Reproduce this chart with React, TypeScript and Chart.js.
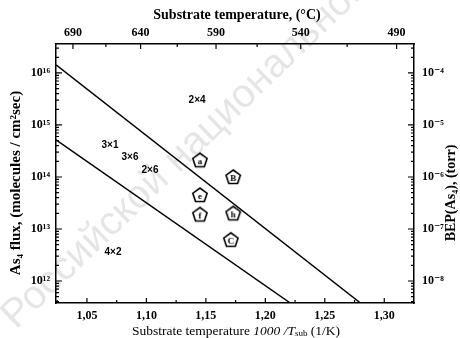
import React, { useEffect, useRef } from "react";
import { Chart, registerables } from "chart.js";

Chart.register(...registerables);

// Axis ticks
const xTicks = [1.05, 1.1, 1.15, 1.2, 1.25, 1.3];
const xMinorTicks = [1.025, 1.075, 1.125, 1.175, 1.225, 1.275, 1.325];
const tempTicksC = [690, 640, 590, 540, 490];
const tempMinorC = [665, 615, 565, 515];
const fluxTicks = [1e12, 1e13, 1e14, 1e15, 1e16];
const bepTicks = [1e-8, 1e-7, 1e-6, 1e-5, 1e-4];

// Phase boundaries (1000/T, As4 flux)
const upperBoundaryX = [1.024, 1.28];
const upperBoundaryFlux = [1.43e16, 3.78e11];
const lowerBoundaryX = [1.024, 1.221];
const lowerBoundaryFlux = [5.15e14, 3.78e11];

// Growth samples
const sampleX = [1.145, 1.173, 1.145, 1.145, 1.173, 1.171];
const sampleFlux = [2.1e14, 1.0e14, 4.5e13, 1.9e13, 2.0e13, 6.2e12];
const sampleIds = ["a", "B", "e", "f", "h", "C"];

// Surface reconstruction regions
const phaseLabels = ["2×4", "3×1", "3×6", "2×6", "4×2"];
const phaseX = [1.1426, 1.0694, 1.0862, 1.103, 1.0719];
const phaseFlux = [3.0e15, 4.1e14, 2.4e14, 1.36e14, 3.6e12];

const X_MIN = 1.024;
const X_MAX = 1.325;
const FLUX_MIN = 3.78e11;
const FLUX_MAX = 3.6e16;
const BEP_PER_FLUX = 1e-20;

const SERIF = "'Liberation Serif', 'DejaVu Serif', serif";
const SANS = "'Liberation Sans', Arial, sans-serif";

const SUP: Record<string, string> = {
  "0": "⁰", "1": "¹", "2": "²", "3": "³", "4": "⁴",
  "5": "⁵", "6": "⁶", "7": "⁷", "8": "⁸", "9": "⁹", "-": "⁻",
};
const powLabel = (v: number) => {
  const e = Math.round(Math.log10(v));
  return "10" + String(e).split("").map((c) => SUP[c] || c).join("");
};
const invT = (c: number) => 1000 / (c + 273.15);

function makePentagon(letter: string): HTMLCanvasElement {
  const size = 20;
  const c = document.createElement("canvas");
  c.width = size;
  c.height = size;
  const ctx = c.getContext("2d")!;
  const cx = size / 2;
  const cy = size / 2 + 0.5;
  const r = 7.5;
  ctx.beginPath();
  for (let i = 0; i < 5; i++) {
    const a = -Math.PI / 2 + (i * 2 * Math.PI) / 5;
    const px = cx + r * Math.cos(a);
    const py = cy + r * Math.sin(a);
    if (i === 0) ctx.moveTo(px, py);
    else ctx.lineTo(px, py);
  }
  ctx.closePath();
  ctx.fillStyle = "#fff";
  ctx.fill();
  ctx.lineWidth = 1.6;
  ctx.strokeStyle = "#000";
  ctx.stroke();
  ctx.fillStyle = "#000";
  ctx.font = `bold 9px ${SERIF}`;
  ctx.textAlign = "center";
  ctx.textBaseline = "middle";
  ctx.fillText(letter, cx, cy + 1);
  return c;
}

const decorations = {
  id: "decorations",
  beforeDatasetsDraw(chart: any) {
    const { ctx } = chart;
    // faint library stamp across the figure
    ctx.save();
    ctx.translate(16, 330);
    ctx.rotate(-Math.PI / 4.1);
    ctx.font = `40px ${SANS}`;
    ctx.fillStyle = "rgba(0,0,0,0.10)";
    ctx.textBaseline = "alphabetic";
    ctx.fillText("Российской национальной", 0, 0);
    ctx.restore();
  },
  afterDraw(chart: any) {
    const { ctx, chartArea: a, scales } = chart;
    const x = scales.x;
    const y = scales.y;
    ctx.save();
    ctx.strokeStyle = "#000";
    ctx.lineWidth = 1.2;
    ctx.beginPath();
    // bottom ticks (inward)
    xTicks.forEach((v) => {
      const px = x.getPixelForValue(v);
      ctx.moveTo(px, a.bottom);
      ctx.lineTo(px, a.bottom - 5);
    });
    xMinorTicks.forEach((v) => {
      const px = x.getPixelForValue(v);
      if (px > a.left && px < a.right) {
        ctx.moveTo(px, a.bottom);
        ctx.lineTo(px, a.bottom - 3);
      }
    });
    // top ticks (inward)
    tempTicksC.forEach((c) => {
      const px = x.getPixelForValue(invT(c));
      ctx.moveTo(px, a.top);
      ctx.lineTo(px, a.top + 5);
    });
    tempMinorC.forEach((c) => {
      const px = x.getPixelForValue(invT(c));
      ctx.moveTo(px, a.top);
      ctx.lineTo(px, a.top + 3);
    });
    // left and right log ticks (inward)
    for (let e = 11; e <= 16; e++) {
      for (let m = 1; m <= 9; m++) {
        const v = m * Math.pow(10, e);
        if (v < FLUX_MIN || v > FLUX_MAX) continue;
        const py = y.getPixelForValue(v);
        const len = m === 1 ? 6 : 3;
        ctx.moveTo(a.left, py);
        ctx.lineTo(a.left + len, py);
        ctx.moveTo(a.right, py);
        ctx.lineTo(a.right - len, py);
      }
    }
    ctx.stroke();

    ctx.fillStyle = "#000";
    // top title
    ctx.font = `bold 14px ${SERIF}`;
    ctx.textAlign = "center";
    ctx.textBaseline = "middle";
    ctx.fillText("Substrate temperature, (°C)", 237, 15);

    // left title
    ctx.save();
    ctx.translate(16, 183);
    ctx.rotate(-Math.PI / 2);
    ctx.font = `bold 15px ${SERIF}`;
    ctx.fillText("As₄ flux, (molecules / cm²sec)", 0, 0);
    ctx.restore();

    // right title
    ctx.save();
    ctx.translate(451, 193);
    ctx.rotate(-Math.PI / 2);
    ctx.font = `bold 14px ${SERIF}`;
    ctx.fillText("BEP(As₄), (torr)", 0, 0);
    ctx.restore();

    // bottom title with mixed styles
    const parts: [string, string, number][] = [
      ["Substrate temperature ", `13.5px ${SERIF}`, 0],
      ["1000 /T", `italic 13.5px ${SERIF}`, 0],
      ["sub", `9px ${SERIF}`, 3],
      [" (1/K)", `13.5px ${SERIF}`, 0],
    ];
    let total = 0;
    parts.forEach(([t, f]) => {
      ctx.font = f;
      total += ctx.measureText(t).width;
    });
    let cx = 236 - total / 2;
    ctx.textAlign = "left";
    parts.forEach(([t, f, dy]) => {
      ctx.font = f;
      ctx.fillText(t, cx, 331 + dy);
      cx += ctx.measureText(t).width;
    });

    // region labels
    ctx.font = `bold 10px ${SANS}`;
    ctx.textAlign = "center";
    phaseLabels.forEach((t, i) => {
      ctx.fillText(t, x.getPixelForValue(phaseX[i]), y.getPixelForValue(phaseFlux[i]));
    });
    ctx.restore();
  },
};

export default function App() {
  const canvasRef = useRef<HTMLCanvasElement | null>(null);

  useEffect(() => {
    if (!canvasRef.current) return;
    const tickFont = { family: SERIF, size: 12, weight: "bold" as const };
    const border = { display: true, color: "#000", width: 1.5 };
    const chart = new Chart(canvasRef.current, {
      type: "scatter",
      data: {
        datasets: [
          {
            data: upperBoundaryX.map((v, i) => ({ x: v, y: upperBoundaryFlux[i] })),
            showLine: true,
            borderColor: "#000",
            borderWidth: 1.5,
            pointRadius: 0,
          },
          {
            data: lowerBoundaryX.map((v, i) => ({ x: v, y: lowerBoundaryFlux[i] })),
            showLine: true,
            borderColor: "#000",
            borderWidth: 1.5,
            pointRadius: 0,
          },
          {
            data: sampleX.map((v, i) => ({ x: v, y: sampleFlux[i] })),
            pointStyle: sampleIds.map(makePentagon) as any,
            pointRadius: 8,
            showLine: false,
          },
        ],
      },
      options: {
        animation: false,
        responsive: false,
        layout: { padding: 0 },
        plugins: { legend: { display: false }, tooltip: { enabled: false }, title: { display: false } },
        scales: {
          x: {
            type: "linear",
            position: "bottom",
            min: X_MIN,
            max: X_MAX,
            border,
            grid: { display: false, drawTicks: false },
            afterBuildTicks: (s: any) => {
              s.ticks = xTicks.map((v) => ({ value: v }));
            },
            afterFit: (s: any) => {
              s.height = 35;
            },
            ticks: {
              padding: 6,
              color: "#000",
              font: tickFont,
              callback: (v: any) => Number(v).toFixed(2).replace(".", ","),
            },
          },
          x2: {
            type: "linear",
            position: "top",
            min: X_MIN,
            max: X_MAX,
            border,
            grid: { display: false, drawTicks: false },
            afterBuildTicks: (s: any) => {
              s.ticks = tempTicksC.map((c) => ({ value: invT(c) }));
            },
            afterFit: (s: any) => {
              s.height = 44;
            },
            ticks: {
              padding: 4,
              color: "#000",
              font: tickFont,
              callback: (_v: any, i: number) => String(tempTicksC[i]),
            },
          },
          y: {
            type: "logarithmic",
            position: "left",
            min: FLUX_MIN,
            max: FLUX_MAX,
            border,
            grid: { display: false, drawTicks: false },
            afterBuildTicks: (s: any) => {
              s.ticks = fluxTicks.map((v) => ({ value: v }));
            },
            afterFit: (s: any) => {
              s.width = 56;
            },
            ticks: {
              padding: 6,
              color: "#000",
              font: tickFont,
              callback: (v: any) => powLabel(Number(v)),
            },
          },
          y2: {
            type: "logarithmic",
            position: "right",
            min: FLUX_MIN * BEP_PER_FLUX,
            max: FLUX_MAX * BEP_PER_FLUX,
            border,
            grid: { display: false, drawTicks: false },
            afterBuildTicks: (s: any) => {
              s.ticks = bepTicks.map((v) => ({ value: v }));
            },
            afterFit: (s: any) => {
              s.width = 46;
            },
            ticks: {
              padding: 8,
              color: "#000",
              font: tickFont,
              callback: (v: any) => powLabel(Number(v)),
            },
          },
        },
      },
      plugins: [decorations],
    });
    return () => chart.destroy();
  }, []);

  return (
    <div style={{ position: "absolute", left: 0, top: 0, width: 460, height: 338, background: "#fff" }}>
      <canvas ref={canvasRef} width={460} height={338} />
    </div>
  );
}
